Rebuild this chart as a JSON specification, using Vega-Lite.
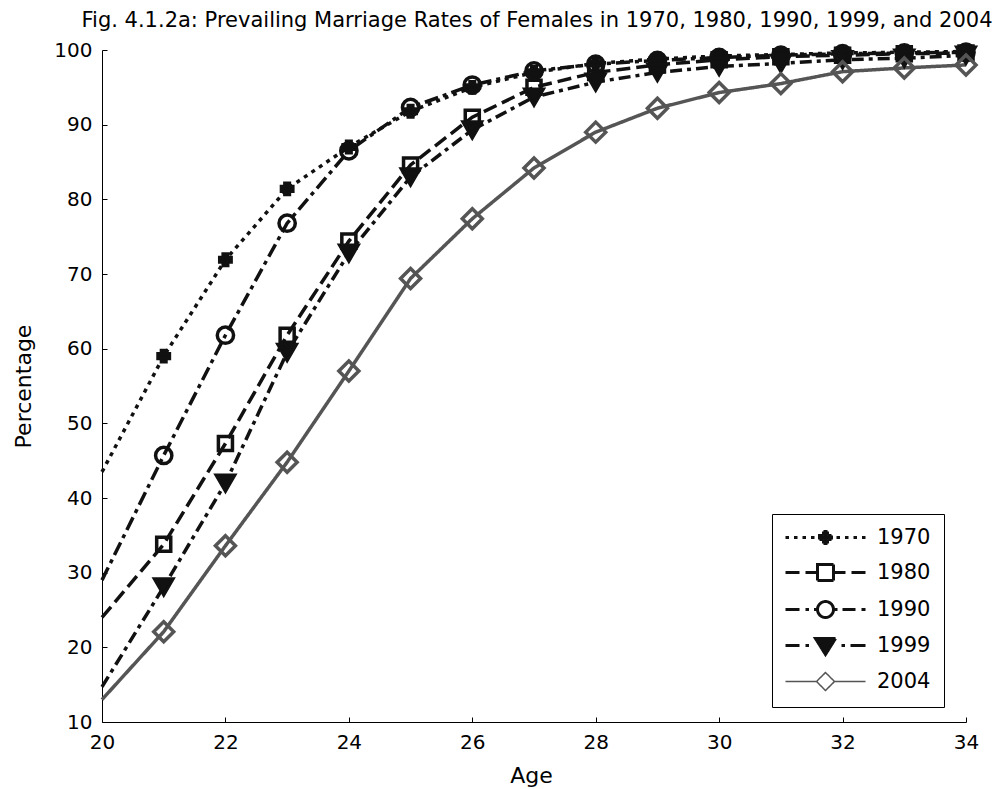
{
  "$schema": "https://vega.github.io/schema/vega-lite/v6.json",
  "width": 864,
  "height": 672,
  "autosize": "none",
  "padding": {"left": 102, "top": 50, "right": 40, "bottom": 67},
  "background": "white",
  "config": {
    "view": {"stroke": null},
    "font": "DejaVu Sans",
    "axis": {
      "grid": false,
      "domainColor": "black",
      "domainWidth": 1,
      "tickColor": "black",
      "tickWidth": 1,
      "labelColor": "black",
      "labelFont": "DejaVu Sans",
      "labelFontSize": 20,
      "titleFont": "DejaVu Sans",
      "titleFontSize": 22,
      "titleFontWeight": "normal",
      "titleColor": "black",
      "labelOverlap": false,
      "labelFlush": false
    }
  },
  "title": {
    "text": "Fig. 4.1.2a: Prevailing Marriage Rates of Females in 1970, 1980, 1990, 1999, and 2004",
    "font": "DejaVu Sans",
    "fontSize": 21,
    "fontWeight": "normal",
    "color": "black",
    "anchor": "middle",
    "baseline": "alphabetic",
    "offset": -11,
    "dx": 3
  },
  "data": {
    "values": [
      {"age": 20, "year": "1970", "pct": 43.5},
      {"age": 21, "year": "1970", "pct": 59.0},
      {"age": 22, "year": "1970", "pct": 71.9},
      {"age": 23, "year": "1970", "pct": 81.4},
      {"age": 24, "year": "1970", "pct": 87.0},
      {"age": 25, "year": "1970", "pct": 91.8},
      {"age": 26, "year": "1970", "pct": 95.0},
      {"age": 27, "year": "1970", "pct": 97.0},
      {"age": 28, "year": "1970", "pct": 98.2},
      {"age": 29, "year": "1970", "pct": 98.8},
      {"age": 30, "year": "1970", "pct": 99.2},
      {"age": 31, "year": "1970", "pct": 99.4},
      {"age": 32, "year": "1970", "pct": 99.6},
      {"age": 33, "year": "1970", "pct": 99.7},
      {"age": 34, "year": "1970", "pct": 99.8},
      {"age": 20, "year": "1980", "pct": 24.0},
      {"age": 21, "year": "1980", "pct": 33.8},
      {"age": 22, "year": "1980", "pct": 47.3},
      {"age": 23, "year": "1980", "pct": 61.8},
      {"age": 24, "year": "1980", "pct": 74.4},
      {"age": 25, "year": "1980", "pct": 84.6},
      {"age": 26, "year": "1980", "pct": 91.0},
      {"age": 27, "year": "1980", "pct": 95.0},
      {"age": 28, "year": "1980", "pct": 97.0},
      {"age": 29, "year": "1980", "pct": 98.0},
      {"age": 30, "year": "1980", "pct": 98.7},
      {"age": 31, "year": "1980", "pct": 99.1},
      {"age": 32, "year": "1980", "pct": 99.3},
      {"age": 33, "year": "1980", "pct": 99.5},
      {"age": 34, "year": "1980", "pct": 99.6},
      {"age": 20, "year": "1990", "pct": 29.0},
      {"age": 21, "year": "1990", "pct": 45.7},
      {"age": 22, "year": "1990", "pct": 61.8},
      {"age": 23, "year": "1990", "pct": 76.8},
      {"age": 24, "year": "1990", "pct": 86.5},
      {"age": 25, "year": "1990", "pct": 92.3},
      {"age": 26, "year": "1990", "pct": 95.3},
      {"age": 27, "year": "1990", "pct": 97.2},
      {"age": 28, "year": "1990", "pct": 98.1},
      {"age": 29, "year": "1990", "pct": 98.6},
      {"age": 30, "year": "1990", "pct": 99.0},
      {"age": 31, "year": "1990", "pct": 99.3},
      {"age": 32, "year": "1990", "pct": 99.5},
      {"age": 33, "year": "1990", "pct": 99.6},
      {"age": 34, "year": "1990", "pct": 99.7},
      {"age": 20, "year": "1999", "pct": 14.7},
      {"age": 21, "year": "1999", "pct": 28.1},
      {"age": 22, "year": "1999", "pct": 42.0},
      {"age": 23, "year": "1999", "pct": 59.5},
      {"age": 24, "year": "1999", "pct": 72.8},
      {"age": 25, "year": "1999", "pct": 83.0},
      {"age": 26, "year": "1999", "pct": 89.3},
      {"age": 27, "year": "1999", "pct": 93.7},
      {"age": 28, "year": "1999", "pct": 95.7},
      {"age": 29, "year": "1999", "pct": 97.0},
      {"age": 30, "year": "1999", "pct": 97.8},
      {"age": 31, "year": "1999", "pct": 98.2},
      {"age": 32, "year": "1999", "pct": 98.7},
      {"age": 33, "year": "1999", "pct": 98.9},
      {"age": 34, "year": "1999", "pct": 99.3},
      {"age": 20, "year": "2004", "pct": 13.0},
      {"age": 21, "year": "2004", "pct": 22.1},
      {"age": 22, "year": "2004", "pct": 33.6},
      {"age": 23, "year": "2004", "pct": 44.8},
      {"age": 24, "year": "2004", "pct": 57.0},
      {"age": 25, "year": "2004", "pct": 69.4},
      {"age": 26, "year": "2004", "pct": 77.4},
      {"age": 27, "year": "2004", "pct": 84.2},
      {"age": 28, "year": "2004", "pct": 89.0},
      {"age": 29, "year": "2004", "pct": 92.2},
      {"age": 30, "year": "2004", "pct": 94.3},
      {"age": 31, "year": "2004", "pct": 95.5},
      {"age": 32, "year": "2004", "pct": 97.1},
      {"age": 33, "year": "2004", "pct": 97.6},
      {"age": 34, "year": "2004", "pct": 98.0}
    ]
  },
  "layer": [
    {
      "mark": {"type": "line", "strokeCap": "butt"},
      "encoding": {
        "x": {
          "field": "age", "type": "quantitative",
          "scale": {"domain": [20, 34], "nice": false, "zero": false},
          "axis": {
            "values": [20, 22, 24, 26, 28, 30, 32, 34],
            "format": "d",
            "title": "Age",
            "tickSize": -5,
            "labelPadding": 15,
            "titleX": 429,
            "titleY": 60,
            "titleBaseline": "alphabetic",
            "titleAnchor": null
          }
        },
        "y": {
          "field": "pct", "type": "quantitative",
          "scale": {"domain": [10, 100], "nice": false, "zero": false},
          "axis": {
            "values": [10, 20, 30, 40, 50, 60, 70, 80, 90, 100],
            "format": "d",
            "title": "Percentage",
            "tickSize": -5,
            "labelPadding": 15,
            "titleX": -79,
            "titleY": 336,
            "titleAngle": -90,
            "titleBaseline": "middle",
            "titleAlign": "center"
          }
        },
        "opacity": {
          "field": "year", "type": "nominal",
          "scale": {"range": [1, 1]},
          "legend": {
            "title": null,
            "orient": "none",
            "legendX": 670,
            "legendY": 464,
            "padding": 13,
            "rowPadding": 8,
            "symbolSize": 400,
            "labelOffset": 71,
            "labelFont": "DejaVu Sans",
            "labelFontSize": 21,
            "labelColor": "black",
            "strokeColor": "black",
            "fillColor": "white",
            "cornerRadius": 0,
            "encoding": {
              "symbols": {
                "shape": {"value": {"expr": "datum.value === '1970' ? 'M-1,0h0.35M-0.15,0h0.35M0.7,0h0.35M1.55,0h0.35M4.1,0h0.35M4.95,0h0.35M5.8,0h0.35M6.65,0h0.35M2.4,-0.2H2.8V-0.6H3.2V-0.2H3.6V0.2H3.2V0.6H2.8V0.2H2.4Z' : datum.value === '1980' ? 'M-1,0H0.4M1,0H2.1M3.9,0H5M5.6,0H7M2.2,-0.8H3.8V0.8H2.2Z' : datum.value === '1990' ? 'M-1,0H0.4M1,0H1.35M1.85,0H2.15M3.9,0H4.2M4.7,0H6M6.6,0H7M3.8,0A0.8,0.8,0,1,1,2.2,0A0.8,0.8,0,1,1,3.8,0Z' : datum.value === '1999' ? 'M-1,0H0.4M1,0H1.35M4.6,0H4.95M5.5,0H7M2,-0.7H4L3,0.9Z' : 'M-1,0H2.1M3.9,0H7M3,-0.9L3.9,0L3,0.9L2.1,0Z'"}},
                "size": {"value": 400},
                "fill": {"value": {"expr": "datum.value === '1970' || datum.value === '1999' ? '#111111' : 'white'"}},
                "stroke": {"value": {"expr": "datum.value === '2004' ? '#555555' : '#111111'"}},
                "strokeWidth": {"value": {"expr": "datum.value === '2004' ? 1.5 : 3"}},
                "strokeDash": {"value": [1, 0]},
                "fillOpacity": {"value": 1},
                "strokeOpacity": {"value": 1}
              }
            }
          }
        },
        "stroke": {
          "field": "year", "type": "nominal",
          "scale": {"domain": ["1970", "1980", "1990", "1999", "2004"],
                    "range": ["#111111", "#111111", "#111111", "#111111", "#555555"]},
          "legend": null
        },
        "strokeDash": {
          "field": "year", "type": "nominal",
          "scale": {"domain": ["1970", "1980", "1990", "1999", "2004"],
                    "range": [[4, 5], [14, 6], [14, 5, 4, 5], [12, 5, 4, 5], [1, 0]]},
          "legend": null
        },
        "strokeWidth": {
          "field": "year", "type": "nominal",
          "scale": {"domain": ["1970", "1980", "1990", "1999", "2004"],
                    "range": [3.5, 3.5, 3.5, 3.5, 1.5]},
          "legend": null
        }
      }
    },
    {
      "transform": [{"filter": "datum.age >= 21"}],
      "mark": {"type": "point", "filled": true, "opacity": 1},
      "encoding": {
        "x": {"field": "age", "type": "quantitative"},
        "y": {"field": "pct", "type": "quantitative"},
        "shape": {
          "field": "year", "type": "nominal",
          "scale": {"domain": ["1970", "1980", "1990", "1999", "2004"],
                    "range": ["cross", "square", "circle", "triangle-down", "diamond"]},
          "legend": null
        },
        "fill": {
          "field": "year", "type": "nominal",
          "scale": {"domain": ["1970", "1980", "1990", "1999", "2004"],
                    "range": ["#111111", "transparent", "transparent", "#111111", "transparent"]},
          "legend": null
        },
        "stroke": {"field": "year", "type": "nominal", "legend": null},
        "strokeWidth": {"field": "year", "type": "nominal", "legend": null},
        "size": {
          "field": "year", "type": "nominal",
          "scale": {"domain": ["1970", "1980", "1990", "1999", "2004"],
                    "range": [130, 400, 420, 480, 380]},
          "legend": null
        }
      }
    }
  ]
}
